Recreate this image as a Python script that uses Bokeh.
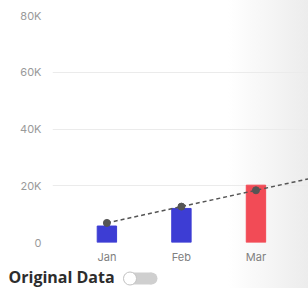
from bokeh.plotting import figure
from bokeh.layouts import column
from bokeh.models import Range1d, FixedTicker, ColumnDataSource
from bokeh.core.properties import value
from bokeh.embed import file_html
from bokeh.resources import INLINE

months = ["Jan", "Feb", "Mar"]
sales = [5800, 12000, 20200]
bar_colors = ["#3d3dd4", "#3d3dd4", "#f24b56"]
trend_x = [0, 1, 2, 3]
trend = [6900, 12650, 18400, 24150]
y_ticks = [0, 20000, 40000, 60000, 80000]
y_tick_labels = ["0", "20K", "40K", "60K", "80K"]
toggle_label = "Original Data"

FONT = "Inter"
x = list(range(len(months)))
src = ColumnDataSource(dict(x=x, top=sales, color=bar_colors))

p = figure(width=308, height=266, x_range=Range1d(-0.73, 2.705), y_range=Range1d(0, 80000),
           output_backend="svg", toolbar_location=None,
           min_border_left=52, min_border_right=0, min_border_top=15, min_border_bottom=24,
           border_fill_color=None, background_fill_color=None, outline_line_color=None)
p.vbar(x="x", top="top", bottom=0, width=0.26, color="color", source=src)
p.line(trend_x, trend, line_color="#555555", line_width=1.5, line_dash="4 3")
p.scatter(trend_x[:len(months)], trend[:len(months)], size=7, color="#555555")

p.xaxis.ticker = FixedTicker(ticks=x)
p.xaxis.major_label_overrides = {i: m for i, m in enumerate(months)}
p.yaxis.ticker = FixedTicker(ticks=y_ticks)
p.yaxis.major_label_overrides = {t: l for t, l in zip(y_ticks, y_tick_labels)}
for ax in (p.xaxis, p.yaxis):
    ax.axis_line_color = None
    ax.major_tick_line_color = None
    ax.minor_tick_line_color = None
    ax.major_tick_in = 0
    ax.major_tick_out = 0
    ax.minor_tick_in = 0
    ax.minor_tick_out = 0
    ax.major_label_text_font = FONT
    ax.major_label_text_font_size = "11px"
p.xaxis.major_label_text_color = "#808080"
p.yaxis.major_label_text_color = "#9a9a9a"
p.xaxis.major_label_standoff = 7
p.yaxis.major_label_standoff = 11
p.xgrid.visible = False
p.ygrid.grid_line_color = "#ebebeb"

p2 = figure(width=308, height=22, x_range=Range1d(0, 308), y_range=Range1d(0, 22),
            output_backend="svg", toolbar_location=None,
            x_axis_location=None, y_axis_location=None,
            min_border=0, border_fill_color=None, background_fill_color=None,
            outline_line_color=None)
p2.frame_align = False
p2.grid.visible = False
p2.text(x=[8], y=[11.3], text=[toggle_label], text_font=value("Open Sans"), text_font_style="bold",
        text_font_size="16px", text_color="#2d2d2d", text_baseline="middle")
p2.rect(x=[140], y=[10], width=22, height=12, fill_color="#cfcfcf", line_color=None)
p2.circle(x=[129, 151], y=[10, 10], radius=6, fill_color="#cfcfcf", line_color=None)
p2.circle(x=[129.5], y=[10], radius=6.5, fill_color="white", line_color="#c4c4c4", line_width=1)

layout = column(p, p2, styles={
    "background": "linear-gradient(90deg, #ffffff 0%, #ffffff 74%, #f5f5f5 88%, #ececec 100%)",
})

open("out.html", "w").write(file_html(layout, INLINE))
